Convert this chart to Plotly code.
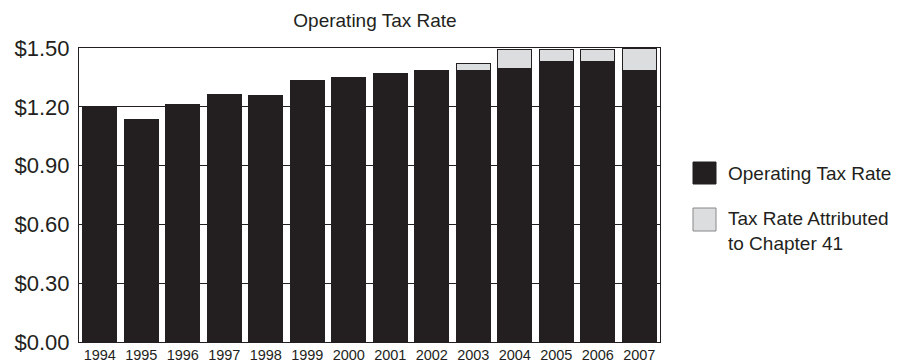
import plotly.graph_objects as go

years = ["1994", "1995", "1996", "1997", "1998", "1999", "2000",
         "2001", "2002", "2003", "2004", "2005", "2006", "2007"]
operating_rate = [1.194, 1.135, 1.211, 1.265, 1.259, 1.335, 1.347,
                  1.370, 1.386, 1.383, 1.395, 1.432, 1.429, 1.386]
chapter41_rate = [0, 0, 0, 0, 0, 0, 0,
                  0, 0, 0.040, 0.095, 0.058, 0.061, 0.114]
y_ticks = [0, 0.3, 0.6, 0.9, 1.2, 1.5]
legend_labels = ["Operating Tax Rate", "Tax Rate Attributed<br>to Chapter 41"]

DARK = "#231f20"
LIGHT = "#dcdddf"
FONT = "Liberation Sans, Arial, sans-serif"

W, H = 901, 364
L, R, T, B = 79, 241, 48, 22

fig = go.Figure()
fig.add_trace(go.Bar(x=years, y=operating_rate, name=legend_labels[0],
                     marker=dict(color=DARK, line=dict(color=DARK, width=1)),
                     showlegend=False))
fig.add_trace(go.Bar(x=years, y=chapter41_rate, name="Tax Rate Attributed to Chapter 41",
                     marker=dict(color=LIGHT, line=dict(color=DARK, width=1)),
                     showlegend=False))

pw = W - L - R
ph = H - T - B
def px(x):
    return (x - L) / pw
def py(y):
    return (H - B - y) / ph

shapes = []
annotations = []
legend_items = [(162, 184, DARK), (208, 231, LIGHT)]
for i, (y0, y1, col) in enumerate(legend_items):
    shapes.append(dict(type="rect", xref="paper", yref="paper",
                       x0=px(693), x1=px(716), y0=py(y1), y1=py(y0),
                       fillcolor=col, line=dict(color=DARK if i == 0 else "#888888", width=1)))
annotations.append(dict(xref="paper", yref="paper", x=px(726), y=py(173),
                        text=legend_labels[0], showarrow=False, xanchor="left",
                        yanchor="middle", align="left",
                        font=dict(family=FONT, size=19, color=DARK)))
annotations.append(dict(xref="paper", yref="paper", x=px(726), y=py(206),
                        text=legend_labels[1], showarrow=False, xanchor="left",
                        yanchor="top", align="left",
                        font=dict(family=FONT, size=19, color=DARK)))

fig.update_layout(
    width=W, height=H,
    margin=dict(l=L, r=R, t=T, b=B, pad=0, autoexpand=False),
    paper_bgcolor="white", plot_bgcolor="white",
    barmode="stack", bargap=0.18,
    font=dict(family=FONT, color=DARK),
    title=dict(text="Operating Tax Rate", x=375 / W, xref="container", xanchor="center",
               y=1 - 20 / H, yref="container", yanchor="middle", automargin=False,
               font=dict(family=FONT, size=19, color=DARK)),
    shapes=shapes,
    annotations=annotations,
    xaxis=dict(showline=True, mirror=True, linecolor=DARK, linewidth=1, automargin=False,
               showgrid=False, ticks="", tickfont=dict(size=14.5, color=DARK)),
    yaxis=dict(range=[0, 1.5], tickvals=y_ticks, tickformat="$.2f", automargin=False,
               showline=True, mirror=True, linecolor=DARK, linewidth=1,
               showgrid=True, gridcolor=DARK, gridwidth=1, zeroline=False,
               ticks="", ticklabelstandoff=4,
               tickfont=dict(size=22, color=DARK)),
)

fig.write_html("out.html", config={"displayModeBar": False},
               post_script="document.body.style.margin='0';document.body.style.overflow='hidden';")
